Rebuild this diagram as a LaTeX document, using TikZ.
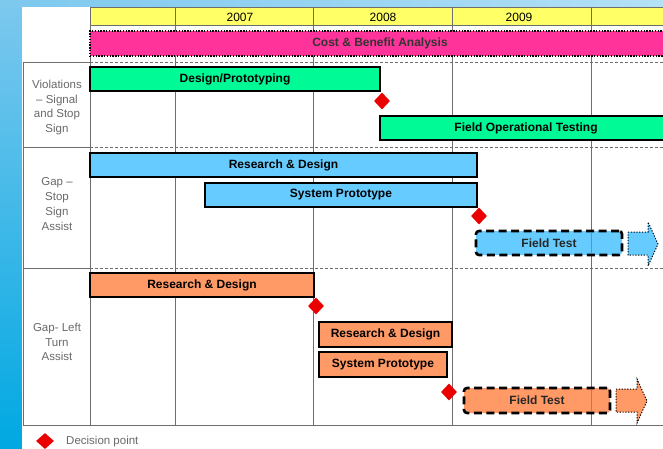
\documentclass[tikz,border=0pt]{standalone}
\usepackage{fontspec}
\setmainfont{Liberation Sans}
\usetikzlibrary{shapes.geometric}
\definecolor{gyellow}{RGB}{255,255,102}
\definecolor{gpink}{RGB}{255,51,153}
\definecolor{ggreen}{RGB}{0,250,150}
\definecolor{gblue}{RGB}{102,204,255}
\definecolor{gorange}{RGB}{255,153,102}
\definecolor{gred}{RGB}{235,0,0}
\definecolor{ggrid}{RGB}{110,110,110}
\definecolor{glabel}{RGB}{105,105,105}
\definecolor{bgtop}{RGB}{125,200,238}
\definecolor{bgbot}{RGB}{0,168,226}
\definecolor{bgright}{RGB}{180,225,246}
\newcommand\gbar[7]{%
  \node[#6, anchor=north west, minimum width={#4pt-#2pt}, minimum height={#5pt-#3pt}] (#1) at (#2,#3) {#7};}
\begin{document}
\begin{tikzpicture}[x=1pt,y=-1pt,
  bar/.style={draw=black, line width=2pt, inner sep=0pt, outer sep=0pt,
    font=\bfseries\fontsize{12}{14}\selectfont, text=black},
  futurebar/.style={draw=black, line width=2.6pt, dash pattern=on 8pt off 4.5pt,
    rounded corners=3pt, inner sep=0pt, outer sep=0pt,
    font=\bfseries\fontsize{12}{14}\selectfont, text=black!85},
  costbar/.style={draw=black, line width=1.6pt, dash pattern=on 1.4pt off 1.4pt,
    inner sep=0pt, outer sep=0pt, fill=gpink,
    font=\bfseries\fontsize{12}{14}\selectfont, text=black!80},
  decision/.style={diamond, fill=gred, inner sep=0pt, minimum width=16pt, minimum height=17pt},
  rowlabel/.style={align=center, text=glabel, font=\fontsize{11.5}{14.7}\selectfont, inner sep=0pt},
  yearlabel/.style={font=\fontsize{12}{14}\selectfont, text=black, inner sep=0pt},
  gridline/.style={draw=ggrid, line width=0.9pt},
  rowsep/.style={draw=ggrid, line width=0.9pt, dash pattern=on 3pt off 2pt},
  moreArrow/.style={draw=black, line width=1pt, dash pattern=on 1.2pt off 1.6pt}
]
\useasboundingbox (0,0) rectangle (663,449);
\clip (0,0) rectangle (663,449);
% background
\shade[top color=bgtop, bottom color=bgbot] (0,0) rectangle (663,449);
\shade[left color=bgtop, right color=bgright] (0,0) rectangle (663,7);
\fill[white] (22,7) rectangle (663,449);
% year header
\fill[gyellow] (90,7) rectangle (663,25);
\draw[gridline] (90,7) -- (663,7) (90,25) -- (663,25);
% grid
\foreach \x in {90,175,313,452,591}
  \draw[gridline] (\x,7) -- (\x,425);
\draw[gridline] (23,62) -- (23,425) -- (663,425);
\draw[gridline] (23,62) -- (90,62) (23,147) -- (90,147) (23,268) -- (90,268);
\draw[rowsep] (90,62) -- (663,62) (90,147) -- (663,147) (90,268) -- (663,268);
% years
\node[yearlabel] (y2007) at (240,17) {2007};
\node[yearlabel] (y2008) at (383,17) {2008};
\node[yearlabel] (y2009) at (519,17) {2009};
% cost & benefit
\gbar{cost}{90}{31}{670}{56}{costbar}{Cost \& Benefit Analysis}
% row labels
\node[rowlabel] (lab1) at (57,107.5) {Violations\\– Signal\\and Stop\\Sign};
\node[rowlabel] (lab2) at (57,204) {Gap –\\Stop\\Sign\\Assist};
\node[rowlabel] (lab3) at (57,342) {Gap- Left\\Turn\\Assist};
% row 1
\gbar{design}{90}{67}{380}{91}{bar,fill=ggreen}{Design/Prototyping}
\node[decision] (d1) at (382,101) {};
\gbar{fot}{380}{116}{672}{140}{bar,fill=ggreen}{Field Operational Testing}
% row 2
\gbar{rd2}{90}{153}{477}{177}{bar,fill=gblue}{Research \& Design}
\gbar{sp2}{205}{183}{477}{207}{bar,fill=gblue}{System Prototype}
\node[decision] (d2) at (479,216) {};
\gbar{ft2}{476}{231}{622}{255}{futurebar,fill=gblue}{Field Test}
\draw[gridline, draw opacity=0.6] (591,233) -- (591,253);
\draw[moreArrow, fill=gblue] (628,232) -- (648,232) -- (648,222) -- (658,244)
  -- (648,266) -- (648,255) -- (628,255) -- cycle;
% row 3
\gbar{rd3}{90}{273}{314}{297}{bar,fill=gorange}{Research \& Design}
\node[decision] (d3) at (316,306) {};
\gbar{rd3b}{319}{322}{452}{347}{bar,fill=gorange}{Research \& Design}
\gbar{sp3}{319}{352}{447}{377}{bar,fill=gorange}{System Prototype}
\node[decision] (d4) at (449,392) {};
\gbar{ft3}{464}{388}{610}{413}{futurebar,fill=gorange}{Field Test}
\draw[gridline, draw opacity=0.6] (591,390) -- (591,411);
\draw[moreArrow, fill=gorange] (616,389) -- (637,389) -- (637,379) -- (647,401)
  -- (637,423) -- (637,412) -- (616,412) -- cycle;
% legend
\node[decision, minimum width=18pt, minimum height=16pt] (legd) at (45,441) {};
\node[rowlabel, anchor=west] (legt) at (66,442) {Decision point};
\end{tikzpicture}
\end{document}
